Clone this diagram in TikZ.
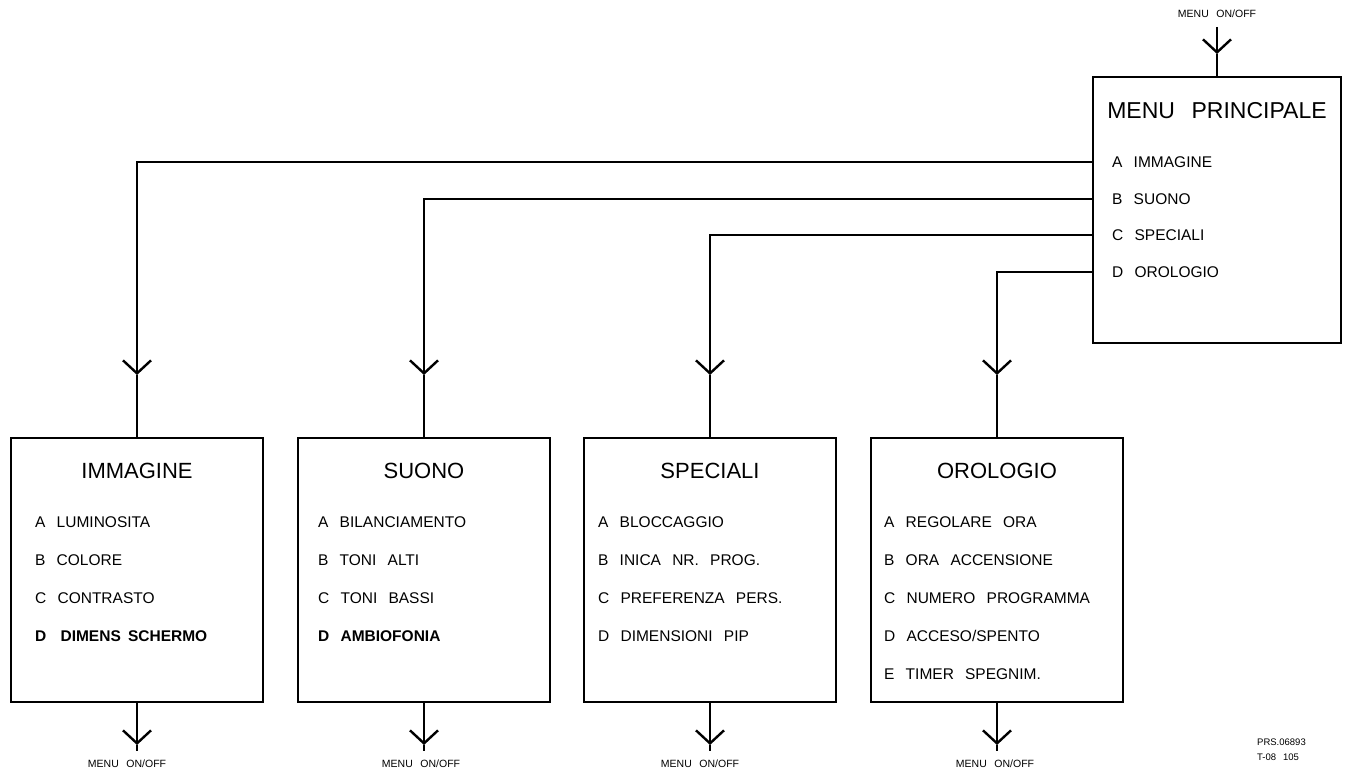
\documentclass[tikz,border=0pt]{standalone}
\usepackage{fontspec}
\setmainfont{Liberation Sans}[WordSpace=2.6]
\usetikzlibrary{arrows.meta, positioning}

\begin{document}
\begin{tikzpicture}[
    x=1pt, y=-1pt,
    menubox/.style={draw, line width=2.6pt, minimum width=252pt, minimum height=264pt, inner sep=0pt},
    mainbox/.style={draw, line width=2.6pt, minimum width=248pt, minimum height=266pt, inner sep=0pt},
    boxtitle/.style={font=\fontsize{22}{24}\selectfont, inner sep=0pt},
    item/.style={anchor=west, font=\fontsize{15.5}{17}\selectfont, inner sep=0pt},
    bolditem/.style={item, font=\fontsize{15.5}{17}\selectfont\bfseries},
    small/.style={font=\fontsize{10.5}{12}\selectfont, inner sep=0pt},
    link/.style={line width=2.4pt},
    tip/.style={link, -{Straight Barb[length=13pt, width=28pt]}}
]
\useasboundingbox (0,0) rectangle (1350,776);

% Main menu
\node[mainbox] (main) at (1217,210) {};
\node[boxtitle, font=\fontsize{23}{25}\selectfont] (mainT) at (1217,111) {MENU PRINCIPALE};
\node[item] (mA) at (1112,162) {A IMMAGINE};
\node[item] (mB) at (1112,199) {B SUONO};
\node[item] (mC) at (1112,235) {C SPECIALI};
\node[item] (mD) at (1112,272) {D OROLOGIO};

\node[small] (topLbl) at (1217,14) {MENU ON/OFF};
\coordinate (topStart) at (1217,27);
\coordinate (topTip) at (1217,54);
\draw[tip] (topStart) -- (topTip);
\draw[link] (topTip) -- (main.north);

% Sub menus
\node[menubox] (imm) at (137,570) {};
\node[boxtitle] (immT) at (137,471) {IMMAGINE};
\node[item] (immA) at (35,522) {A LUMINOSITA};
\node[item] (immB) at (35,560) {B COLORE};
\node[item] (immC) at (35,598) {C CONTRASTO};
\node[bolditem] (immD) at (35,636) {D\hspace{3pt} DIMENS\hspace{-4pt} SCHERMO};

\node[menubox] (suo) at (424,570) {};
\node[boxtitle] (suoT) at (424,471) {SUONO};
\node[item] (suoA) at (318,522) {A BILANCIAMENTO};
\node[item] (suoB) at (318,560) {B TONI ALTI};
\node[item] (suoC) at (318,598) {C TONI BASSI};
\node[bolditem] (suoD) at (318,636) {D AMBIOFONIA};

\node[menubox] (spe) at (710,570) {};
\node[boxtitle] (speT) at (710,471) {SPECIALI};
\node[item] (speA) at (598,522) {A BLOCCAGGIO};
\node[item] (speB) at (598,560) {B INICA NR. PROG.};
\node[item] (speC) at (598,598) {C PREFERENZA PERS.};
\node[item] (speD) at (598,636) {D DIMENSIONI PIP};

\node[menubox] (oro) at (997,570) {};
\node[boxtitle] (oroT) at (997,471) {OROLOGIO};
\node[item] (oroA) at (884,522) {A REGOLARE ORA};
\node[item] (oroB) at (884,560) {B ORA ACCENSIONE};
\node[item] (oroC) at (884,598) {C NUMERO PROGRAMMA};
\node[item] (oroD) at (884,636) {D ACCESO/SPENTO};
\node[item] (oroE) at (884,674) {E TIMER SPEGNIM.};

% main menu -> sub menus
\foreach \row/\sub in {mA/imm, mB/suo, mC/spe, mD/oro} {
    \coordinate (\sub-in) at (\sub.north |- 0,375);
    \draw[tip] (main.west |- \row) -| (\sub-in);
    \draw[link] (\sub-in) -- (\sub.north);
}

% sub menus -> menu on/off
\foreach \sub/\lx in {imm/127, suo/421, spe/700, oro/995} {
    \coordinate (\sub-out) at (\sub.south |- 0,745);
    \coordinate (\sub-end) at (\sub.south |- 0,751);
    \draw[tip] (\sub.south) -- (\sub-out);
    \draw[link] (\sub-out) -- (\sub-end);
    \node[small] (\sub-lbl) at (\lx,764) {MENU ON/OFF};
}

\node[anchor=north west, font=\fontsize{9.5}{14.5}\selectfont, align=left, inner sep=0pt] (ref) at (1257,739) {PRS.06893\\T-08 105};

\end{tikzpicture}
\end{document}
